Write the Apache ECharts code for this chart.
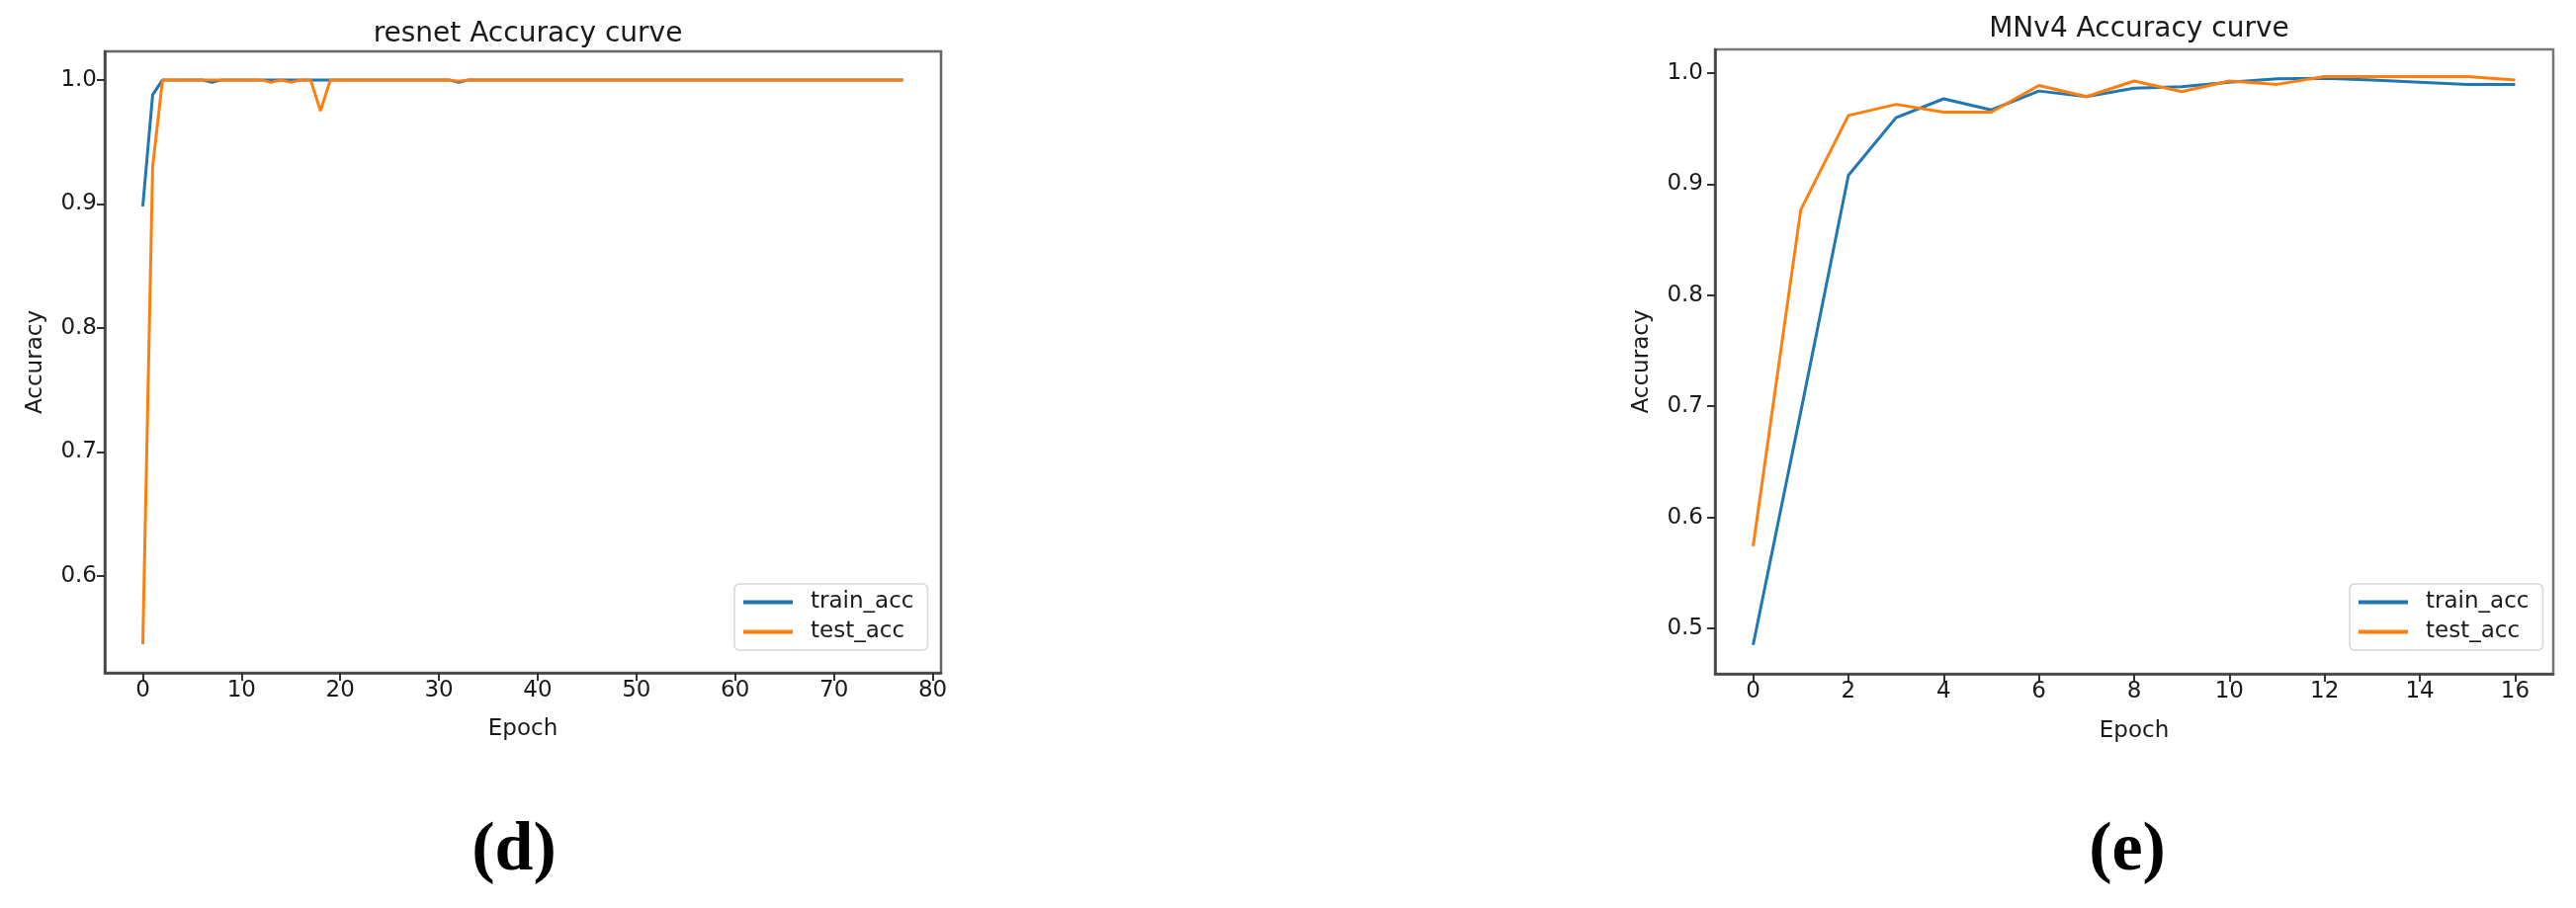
<!DOCTYPE html>
<html>
<head>
<meta charset="utf-8">
<title>Accuracy curves</title>
<script src="https://cdn.jsdelivr.net/npm/echarts@6/dist/echarts.min.js"></script>
<style>
  html, body { margin: 0; padding: 0; background: #fff; }
  #chart { width: 2606px; height: 919px; }
</style>
</head>
<body>
<div id="chart"></div>
<script>
// (d) resnet, 78 epochs
const resnetTrain = [
  0.898, 0.988, 1.0, 1.0, 1.0, 1.0, 1.0, 0.998, 1.0, 1.0,
  1.0, 1.0, 1.0, 1.0, 1.0, 1.0, 1.0, 1.0, 1.0, 1.0,
  1.0, 1.0, 1.0, 1.0, 1.0, 1.0, 1.0, 1.0, 1.0, 1.0,
  1.0, 1.0, 0.998, 1.0, 1.0, 1.0, 1.0, 1.0, 1.0, 1.0,
  1.0, 1.0, 1.0, 1.0, 1.0, 1.0, 1.0, 1.0, 1.0, 1.0,
  1.0, 1.0, 1.0, 1.0, 1.0, 1.0, 1.0, 1.0, 1.0, 1.0,
  1.0, 1.0, 1.0, 1.0, 1.0, 1.0, 1.0, 1.0, 1.0, 1.0,
  1.0, 1.0, 1.0, 1.0, 1.0, 1.0, 1.0, 1.0
]
const resnetTest = [
  0.545, 0.93, 1.0, 1.0, 1.0, 1.0, 1.0, 1.0, 1.0, 1.0,
  1.0, 1.0, 1.0, 0.998, 1.0, 0.998, 1.0, 1.0, 0.975, 1.0,
  1.0, 1.0, 1.0, 1.0, 1.0, 1.0, 1.0, 1.0, 1.0, 1.0,
  1.0, 1.0, 0.999, 1.0, 1.0, 1.0, 1.0, 1.0, 1.0, 1.0,
  1.0, 1.0, 1.0, 1.0, 1.0, 1.0, 1.0, 1.0, 1.0, 1.0,
  1.0, 1.0, 1.0, 1.0, 1.0, 1.0, 1.0, 1.0, 1.0, 1.0,
  1.0, 1.0, 1.0, 1.0, 1.0, 1.0, 1.0, 1.0, 1.0, 1.0,
  1.0, 1.0, 1.0, 1.0, 1.0, 1.0, 1.0, 1.0
]
// (e) MNv4, 17 epochs
const mnv4Train = [0.485, 0.695, 0.908, 0.960, 0.977, 0.967, 0.984, 0.979, 0.9865, 0.988, 0.992, 0.995, 0.9955, 0.994, 0.992, 0.990, 0.990]
const mnv4Test = [0.574, 0.877, 0.962, 0.972, 0.965, 0.965, 0.989, 0.979, 0.993, 0.9835, 0.993, 0.990, 0.997, 0.997, 0.997, 0.997, 0.994]

const epochTicksD = [0, 10, 20, 30, 40, 50, 60, 70, 80]
const accTicksD = [0.6, 0.7, 0.8, 0.9, 1.0]
const epochTicksE = [0, 2, 4, 6, 8, 10, 12, 14, 16]
const accTicksE = [0.5, 0.6, 0.7, 0.8, 0.9, 1.0]

const seriesNames = ['train_acc', 'test_acc']
const colors = ['#1f77b4', '#ff7f0e']
const panelTitles = ['resnet Accuracy curve', 'MNv4 Accuracy curve']
const panelLabels = ['(d)', '(e)']

const font = 'DejaVu Sans'
const textColor = '#1a1a1a'

function pairs(arr) {
  return arr.map((v, i) => [i, v])
}

function xAxisOf(gridIndex, min, max, ticks, nameGap) {
  return {
    type: 'value', gridIndex: gridIndex, min: min, max: max,
    name: 'Epoch', nameLocation: 'middle', nameGap: nameGap,
    nameTextStyle: {fontFamily: font, fontSize: 23, color: textColor},
    axisLine: {show: true, onZero: false, lineStyle: {color: '#444', width: 2.5}},
    axisTick: {show: true, length: 8, customValues: ticks, lineStyle: {color: '#333', width: 2}},
    axisLabel: {show: true, margin: 7, customValues: ticks, fontFamily: font, fontSize: 23, color: textColor},
    splitLine: {show: false}
  }
}

function yAxisOf(gridIndex, min, max, ticks, nameGap, margin) {
  return {
    type: 'value', gridIndex: gridIndex, min: min, max: max,
    name: 'Accuracy', nameLocation: 'middle', nameGap: nameGap,
    nameTextStyle: {fontFamily: font, fontSize: 23, color: textColor},
    axisLine: {show: true, onZero: false, lineStyle: {color: '#444', width: 2.5}},
    axisTick: {show: true, length: 8, customValues: ticks, lineStyle: {color: '#333', width: 2}},
    axisLabel: {
      show: true, margin: margin, customValues: ticks, fontFamily: font, fontSize: 23, color: textColor,
      formatter: v => v.toFixed(1)
    },
    splitLine: {show: false}
  }
}

function lineOf(name, data, idx, color) {
  return {
    name: name, type: 'line', xAxisIndex: idx, yAxisIndex: idx,
    data: pairs(data), symbol: 'none', smooth: false,
    lineStyle: {color: color, width: 3}, itemStyle: {color: color},
    emphasis: {disabled: true}
  }
}

function legendOf(left, top) {
  return {
    left: left, top: top, orient: 'vertical',
    data: seriesNames, icon: 'rect', itemWidth: 50, itemHeight: 4, itemGap: 7,
    padding: [7, 14, 7, 9],
    backgroundColor: '#fff', borderColor: '#d6d6d6', borderWidth: 1.5, borderRadius: 5,
    textStyle: {fontFamily: font, fontSize: 23, color: textColor, padding: [0, 0, 0, 13]},
    selectedMode: false
  }
}

const chartOption = {
  animation: false,
  backgroundColor: '#fff',
  title: [
    {text: panelTitles[0], left: 529, top: 16, textAlign: 'center',
      textStyle: {fontFamily: font, fontSize: 28, fontWeight: 'normal', color: textColor}},
    {text: panelTitles[1], left: 2159, top: 11, textAlign: 'center',
      textStyle: {fontFamily: font, fontSize: 28, fontWeight: 'normal', color: textColor}},
    {text: panelLabels[0], left: 515, top: 822, textAlign: 'center',
      textStyle: {fontFamily: 'Liberation Serif', fontSize: 70, fontWeight: 'bold', color: '#000'}},
    {text: panelLabels[1], left: 2147, top: 822, textAlign: 'center',
      textStyle: {fontFamily: 'Liberation Serif', fontSize: 70, fontWeight: 'bold', color: '#000'}}
  ],
  legend: [legendOf(743, 591), legendOf(2377, 591)],
  grid: [
    {left: 106, top: 52, width: 846, height: 629, show: true, borderColor: '#666', borderWidth: 2.5, backgroundColor: 'transparent'},
    {left: 1735, top: 50, width: 848, height: 632, show: true, borderColor: '#777', borderWidth: 2.5, backgroundColor: 'transparent'}
  ],
  xAxis: [
    xAxisOf(0, -3.85, 80.85, epochTicksD, 46),
    xAxisOf(1, -0.8, 16.8, epochTicksE, 47)
  ],
  yAxis: [
    yAxisOf(0, 0.522, 1.023, accTicksD, 58, 8),
    yAxisOf(1, 0.459, 1.0215, accTicksE, 62, 12)
  ],
  series: [
    lineOf(seriesNames[0], resnetTrain, 0, colors[0]),
    lineOf(seriesNames[1], resnetTest, 0, colors[1]),
    lineOf(seriesNames[0], mnv4Train, 1, colors[0]),
    lineOf(seriesNames[1], mnv4Test, 1, colors[1])
  ]
}

const accChart = echarts.init(document.getElementById('chart'))
accChart.setOption(chartOption)
window.addEventListener('resize', () => accChart.resize())
</script>
</body>
</html>
